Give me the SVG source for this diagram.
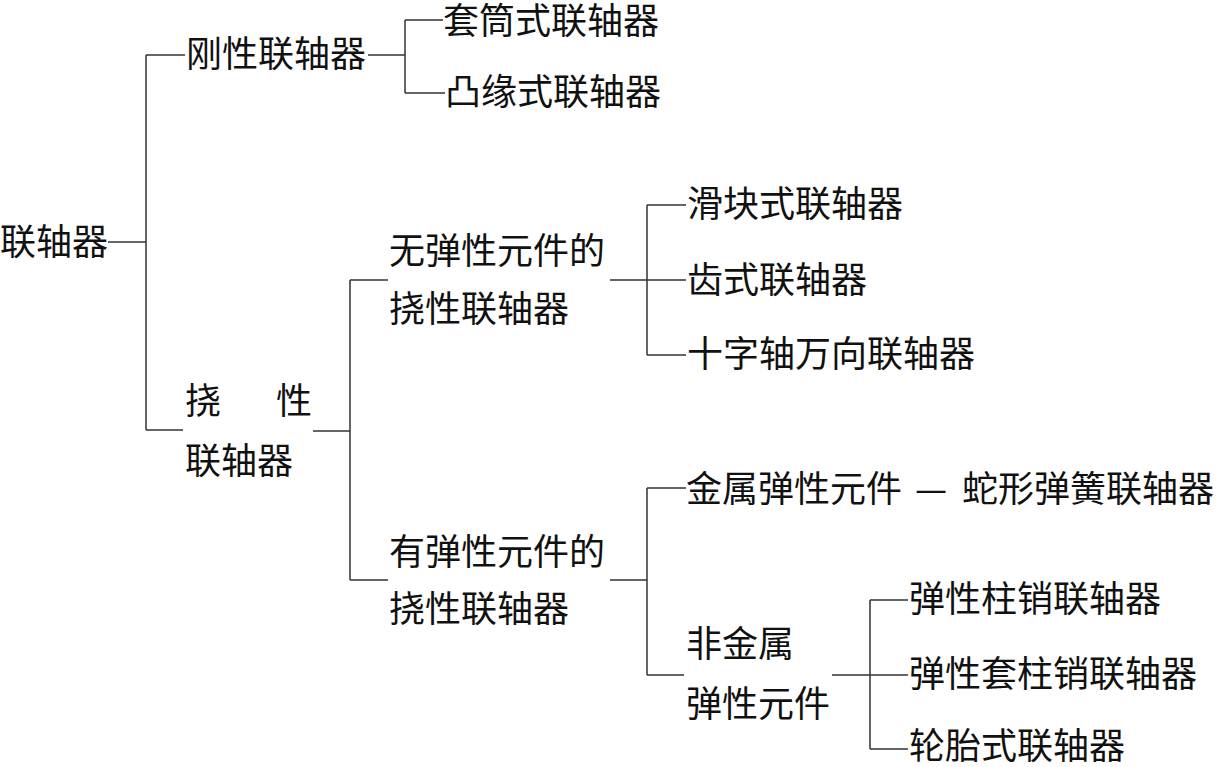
<svg xmlns="http://www.w3.org/2000/svg" width="1218" height="767" viewBox="0 0 1218 767">
<style>
text{font-family:"Noto Sans CJK SC","Noto Sans CJK JP",sans-serif;font-size:36px;fill:#111}
.c path{fill:none;stroke:#333;stroke-width:1.5}
</style>
<rect width="1218" height="767" fill="#fff"/>
<g class="c" id="connectors">
<path d="M108 242H146M146 55V430M146 55H185M146 430H183"/>
<path d="M368 55H405M405 20V93M405 20H443M405 93H445"/>
<path d="M313 431H350M350 280V580M350 280H388M350 580H388"/>
<path d="M610 280H647M647 205V355M647 205H686M647 280H686M647 355H686"/>
<path d="M610 580H647M647 488V675M647 488H686M647 675H684"/>
<path d="M832 675H870M870 600V749M870 600H908M870 675H908M870 749H908"/>
</g>
<g id="root"><text x="0" y="255">联轴器</text></g>
<g id="rigid"><text x="186" y="67">刚性联轴器</text></g>
<g id="sleeve"><text x="443" y="34">套筒式联轴器</text></g>
<g id="flange"><text x="445" y="105">凸缘式联轴器</text></g>
<g id="flexible"><text x="185" y="414">挠</text><text x="276" y="414">性</text><text x="185" y="474">联轴器</text></g>
<g id="no-elastic"><text x="389" y="264">无弹性元件的</text><text x="389" y="322">挠性联轴器</text></g>
<g id="slider"><text x="687" y="217">滑块式联轴器</text></g>
<g id="gear"><text x="687" y="293">齿式联轴器</text></g>
<g id="cross"><text x="687" y="367">十字轴万向联轴器</text></g>
<g id="with-elastic"><text x="389" y="565">有弹性元件的</text><text x="389" y="622">挠性联轴器</text></g>
<g id="metal"><text x="686" y="502">金属弹性元件<tspan x="915">—</tspan><tspan x="962">蛇形弹簧联轴器</tspan></text></g>
<g id="nonmetal"><text x="686" y="657">非金属</text><text x="686" y="717">弹性元件</text></g>
<g id="pin"><text x="909" y="612">弹性柱销联轴器</text></g>
<g id="sleeve-pin"><text x="909" y="687">弹性套柱销联轴器</text></g>
<g id="tyre"><text x="909" y="759">轮胎式联轴器</text></g>
</svg>
